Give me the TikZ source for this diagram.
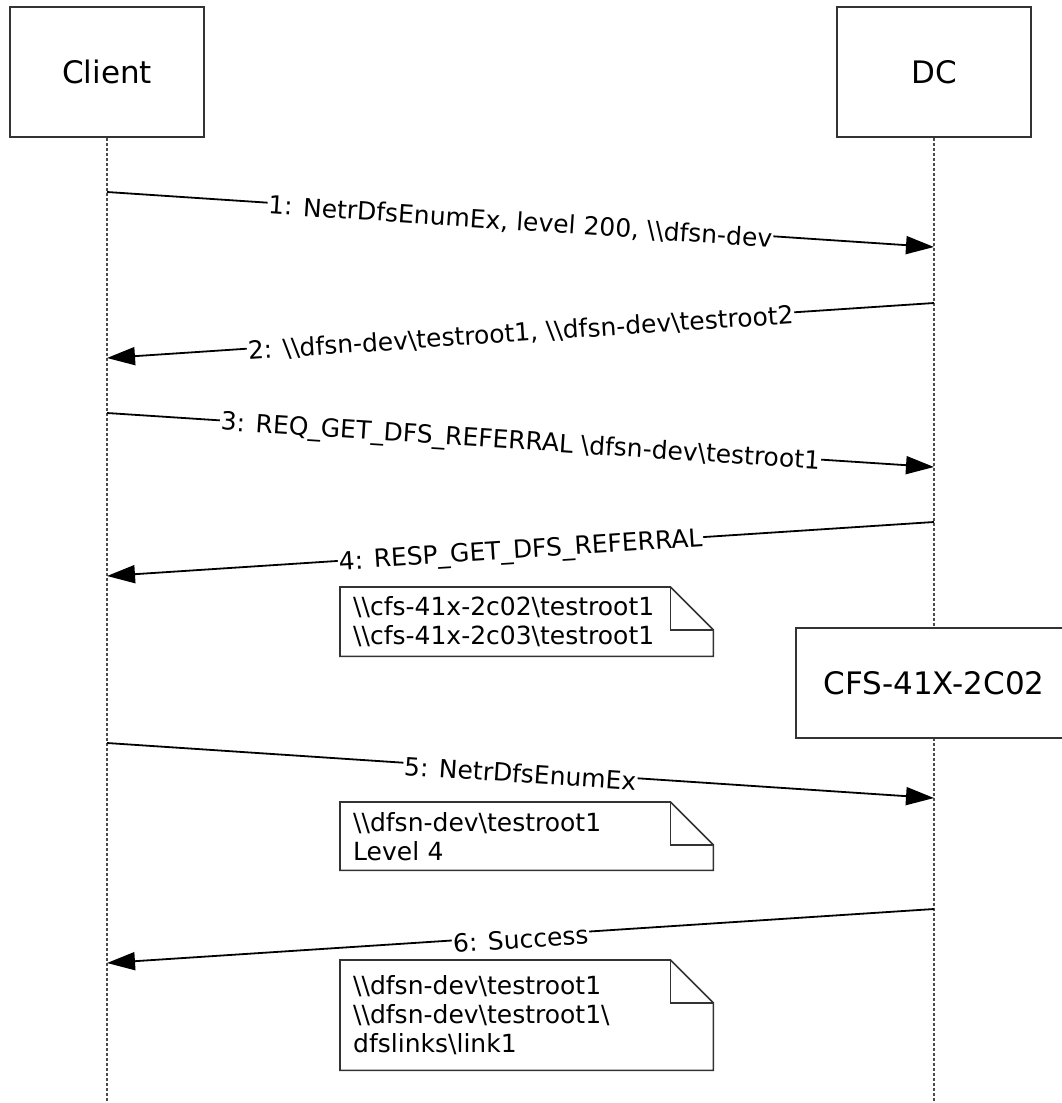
\documentclass[tikz,border=0pt]{standalone}
\usepackage{fontspec}
\setmainfont{DejaVu Sans}
\usetikzlibrary{arrows.meta}
\newcommand{\bs}{\textbackslash}
\begin{document}
\begin{tikzpicture}[x=1pt,y=-1pt,
  actor/.style={draw=black!80, line width=1.6pt, fill=white, minimum width=194pt, minimum height=130pt, inner sep=0pt, font=\fontsize{31}{37}\selectfont},
  lifeline/.style={draw=black!70, line width=1.5pt, dash pattern=on 3pt off 2pt},
  msg/.style={draw=black, line width=1.8pt, -{Triangle[length=28pt,width=18pt]}},
  lbl/.style={midway, sloped, fill=white, inner xsep=1pt, inner ysep=0pt, font=\fontsize{25}{30}\selectfont, yshift=-3pt},
  notebox/.style={anchor=north west, text width=347pt, inner xsep=13pt, inner ysep=0pt, minimum height=#1, align=left, font=\fontsize{25}{29}\selectfont},
  noteline/.style={draw=black!80, line width=1.6pt, line join=miter},
]
\useasboundingbox (0,0) rectangle (1062,1103);
\clip (0,0) rectangle (1062,1103);

% actors
\node[actor] (client) at (107,72) {Client};
\node[actor] (dc) at (934,72) {DC};
\coordinate (clientend) at (107,1103);
\coordinate (dcend) at (934,1103);
\draw[lifeline] (client.south) -- (clientend);
\draw[lifeline] (dc.south) -- (dcend);

% CFS box over DC lifeline
\node[actor, minimum width=276pt, minimum height=110pt] (cfs) at (934,683) {CFS-41X-2C02};

% message end points
\coordinate (c1) at (107,192); \coordinate (d1) at (934,247);
\coordinate (d2) at (934,303); \coordinate (c2) at (107,358);
\coordinate (c3) at (107,413); \coordinate (d3) at (934,467);
\coordinate (d4) at (934,522); \coordinate (c4) at (107,576);
\coordinate (c5) at (107,743); \coordinate (d5) at (934,798);
\coordinate (d6) at (934,909); \coordinate (c6) at (107,963);

\draw[msg] (c1) -- node[lbl] {1: NetrDfsEnumEx, level 200, \bs\bs dfsn-dev} (d1);
\draw[msg] (d2) -- node[lbl] {2: \bs\bs dfsn-dev\bs testroot1, \bs\bs dfsn-dev\bs testroot2} (c2);
\draw[msg] (c3) -- node[lbl] {3: REQ\_GET\_DFS\_REFERRAL \bs dfsn-dev\bs testroot1} (d3);
\draw[msg] (d4) -- node[lbl] {4: RESP\_GET\_DFS\_REFERRAL} (c4);
\draw[msg] (c5) -- node[lbl] {5: NetrDfsEnumEx} (d5);
\draw[msg] (d6) -- node[lbl] {6: Success} (c6);

% notes
\node[notebox=69pt] (n1) at (340,587) {\bs\bs cfs-41x-2c02\bs testroot1\\\bs\bs cfs-41x-2c03\bs testroot1};
\node[notebox=68pt] (n2) at (340,802) {\bs\bs dfsn-dev\bs testroot1\\Level 4};
\node[notebox=110pt] (n3) at (340,960) {\bs\bs dfsn-dev\bs testroot1\\\bs\bs dfsn-dev\bs testroot1\bs\\dfslinks\bs link1};

\foreach \n in {n1,n2,n3} {
  \draw[noteline] (\n.north west) -- ([xshift=-43pt]\n.north east) -- ([yshift=-43pt]\n.north east) -- (\n.south east) -- (\n.south west) -- cycle;
  \draw[noteline] ([xshift=-43pt]\n.north east) |- ([yshift=-43pt]\n.north east);
}
\end{tikzpicture}
\end{document}
